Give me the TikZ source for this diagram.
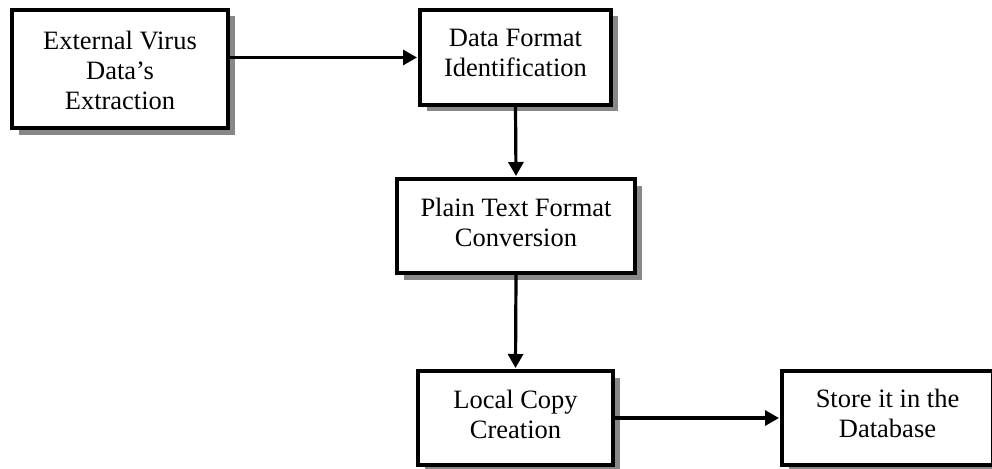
\documentclass[tikz,border=0pt]{standalone}
\usepackage{fontspec}
\setmainfont{Liberation Serif}
\usetikzlibrary{arrows.meta,shadows}
\definecolor{shadowgray}{RGB}{136,136,136}
\begin{document}
\begin{tikzpicture}[x=1pt,y=-1pt,
  procbox/.style={draw=black, line width=4pt, fill=white, rectangle, inner sep=0pt,
    drop shadow={shadow xshift=6.5pt, shadow yshift=-6.5pt, fill=shadowgray, opacity=1}},
  boxtext/.style={align=center, inner sep=0pt, font=\fontsize{26.5}{30}\selectfont},
  arr/.style={line width=3.2pt, -{Triangle[length=14pt,width=15pt]}, shorten >=1pt}]
\useasboundingbox (0,0) rectangle (992,468);
\clip (0,0) rectangle (992,468);
% boxes
\node[procbox, minimum width=216pt, minimum height=118pt] (b1) at (120,69) {};
\node[procbox, minimum width=191pt, minimum height=95pt] (b2) at (515.5,57.5) {};
\node[procbox, minimum width=238pt, minimum height=94pt] (b3) at (516,226) {};
\node[procbox, minimum width=195pt, minimum height=94pt] (b4) at (515.5,418) {};
\node[procbox, minimum width=211pt, minimum height=94pt] (b5) at (887.5,418) {};
% texts
\node[boxtext] (t1) at (120,70) {External Virus\\Data’s\\Extraction};
\node[boxtext] (t2) at (515.5,53) {Data Format\\Identification};
\node[boxtext] (t3) at (516,222) {Plain Text Format\\Conversion};
\node[boxtext] (t4) at (515.5,414) {Local Copy\\Creation};
\node[boxtext] (t5) at (887.5,413) {Store it in the\\Database};
% connectors
\draw[arr] (b1.east |- b2.west) -- (b2.west);
\draw[arr] (b2.south) -- (b3.north);
\draw[arr] (b3.south) -- (b4.north);
\draw[arr] (b4.east) -- (b5.west);
\end{tikzpicture}
\end{document}
